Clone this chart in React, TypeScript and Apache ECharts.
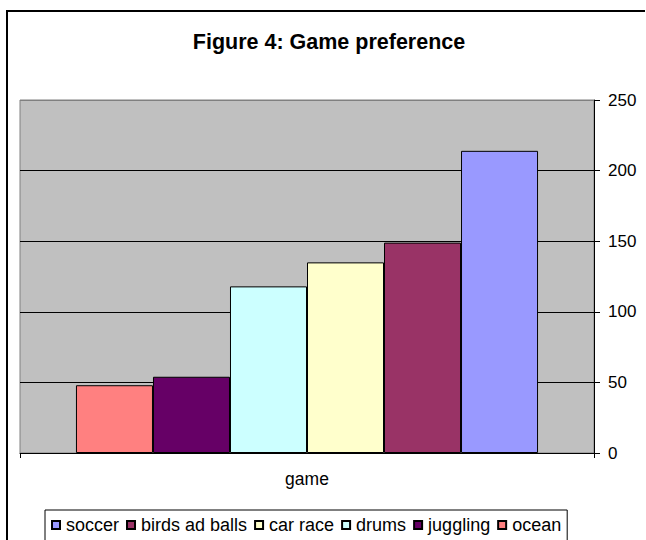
import React, { useEffect, useRef } from "react";
import * as echarts from "echarts";

// Games in left-to-right bar order
const games = ["ocean", "juggling", "drums", "car race", "birds ad balls", "soccer"];
const votes = [48, 54, 118, 135, 149, 214];
const barColors = ["#FF8080", "#660066", "#CCFFFF", "#FFFFCC", "#993366", "#9999FF"];
const categories = ["game"];
const legendOrder = ["soccer", "birds ad balls", "car race", "drums", "juggling", "ocean"];
const titleText = "Figure 4: Game preference";

const FONT = "'Liberation Sans', Arial, Helvetica, sans-serif";

export default function App() {
  const ref = useRef<HTMLDivElement>(null);

  useEffect(() => {
    if (!ref.current) return;
    const chart = echarts.init(ref.current, undefined, { renderer: "svg" });

    const series = games.map((name, i) => ({
      name,
      type: "bar" as const,
      data: [votes[i]],
      barGap: "0%",
      barCategoryGap: "19.5%",
      itemStyle: { color: barColors[i], borderColor: "#000", borderWidth: 1 },
    }));

    chart.setOption({
      animation: false,
      backgroundColor: "#fff",
      textStyle: { fontFamily: FONT },
      graphic: [
        // chart-area frame: left and top edges
        {
          type: "rect",
          shape: { x: 6, y: 10, width: 2, height: 530 },
          style: { fill: "#000" },
          silent: true,
          z: 101,
        },
        {
          type: "rect",
          shape: { x: 6, y: 10, width: 639, height: 2 },
          style: { fill: "#000" },
          silent: true,
          z: 101,
        },
        {
          type: "text",
          x: 329,
          y: 42,
          style: {
            text: titleText,
            fontFamily: FONT,
            fontWeight: "bold",
            fontSize: 21.5,
            fill: "#000",
            textAlign: "center",
            textVerticalAlign: "middle",
          },
        },
      ],
      grid: {
        left: 20,
        top: 100,
        right: 52,
        bottom: 87,
        show: true,
        backgroundColor: "#C0C0C0",
        borderColor: "#808080",
        borderWidth: 1,
        containLabel: false,
      },
      legend: {
        data: legendOrder,
        left: 45,
        top: 510,
        orient: "horizontal",
        icon: "rect",
        itemWidth: 8,
        itemHeight: 8,
        itemGap: 7,
        padding: [6, 6, 12, 6],
        borderColor: "#000",
        borderWidth: 1,
        backgroundColor: "#fff",
        textStyle: { fontFamily: FONT, fontSize: 18, color: "#000", padding: [0, 0, 0, 1] },
      },
      xAxis: {
        type: "category",
        data: categories,
        axisLine: { show: true, lineStyle: { color: "#000", width: 1 } },
        axisTick: { show: true, length: 5, inside: false, lineStyle: { color: "#000" } },
        axisLabel: { fontFamily: FONT, fontSize: 17.5, color: "#000", margin: 17 },
        splitLine: { show: false },
      },
      yAxis: {
        type: "value",
        position: "right",
        min: 0,
        max: 250,
        interval: 50,
        axisLine: { show: true, lineStyle: { color: "#000", width: 1 } },
        axisTick: { show: true, length: 6, inside: false, lineStyle: { color: "#000" } },
        axisLabel: { fontFamily: FONT, fontSize: 17, color: "#000", margin: 14 },
        splitLine: {
          show: true,
          lineStyle: {
            color: ["#000", "#000", "#000", "#000", "#000", "#808080"],
            width: 1,
          },
        },
      },
      series,
    });

    return () => chart.dispose();
  }, []);

  return (
    <div
      ref={ref}
      style={{ position: "fixed", left: 0, top: 0, width: 646, height: 540 }}
    />
  );
}
